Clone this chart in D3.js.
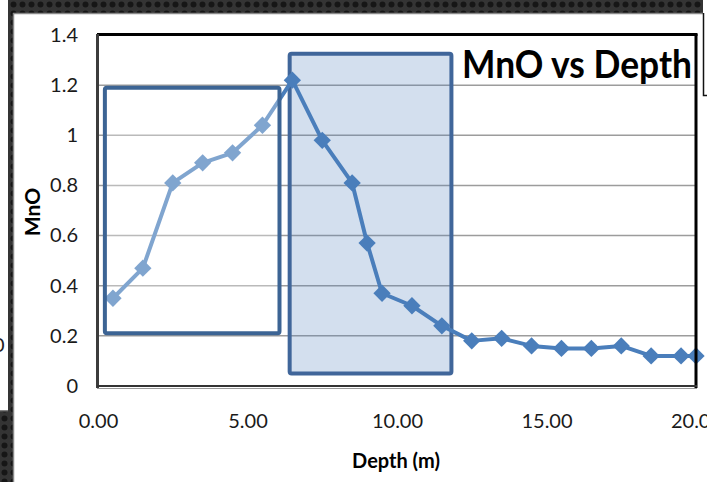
<!DOCTYPE html>
<html>
<head>
<meta charset="utf-8">
<script src="https://cdn.jsdelivr.net/npm/d3@7"></script>
<style>
  html,body{margin:0;padding:0;background:#fff;}
  svg{display:block;}
</style>
</head>
<body>
<svg id="chart"></svg>
<script>
// data
const depth = [0.5,1.5,2.5,3.5,4.5,5.5,6.5,7.5,8.5,9,9.5,10.5,11.5,12.5,13.5,14.5,15.5,16.5,17.5,18.5,19.5,20]
const mno   = [0.35,0.47,0.81,0.89,0.93,1.04,1.22,0.98,0.81,0.57,0.37,0.32,0.24,0.18,0.19,0.16,0.15,0.15,0.16,0.12,0.12,0.12]
const yTicks = [0,0.2,0.4,0.6,0.8,1,1.2,1.4]
const xTicks = [0,5,10,15,20]
// highlight boxes in data units: [x0,x1,y0,y1]
const leftBox  = [0.23,6.07,0.21,1.19]
const rightBox = [6.41,11.82,0.05,1.325]

const W=707,H=482
const font="Lato, 'Open Sans', sans-serif"
const svg=d3.select('#chart').attr('width',W).attr('height',H)

// dark textured slide background
const defs=svg.append('defs')
const pat=defs.append('pattern').attr('id','tex').attr('width',9).attr('height',9)
  .attr('patternUnits','userSpaceOnUse')
pat.append('rect').attr('width',9).attr('height',9).attr('fill','#343434')
pat.append('circle').attr('cx',4.5).attr('cy',4.5).attr('r',3).attr('fill','#161616')

svg.append('rect').attr('x',8).attr('y',0).attr('width',695).attr('height',13).attr('fill','url(#tex)')
svg.append('rect').attr('x',8).attr('y',0).attr('width',5).attr('height',H).attr('fill','url(#tex)')
svg.append('rect').attr('x',0).attr('y',411).attr('width',13).attr('height',H-411).attr('fill','url(#tex)')
svg.append('line').attr('x1',13).attr('x2',703).attr('y1',13.5).attr('y2',13.5).attr('stroke','#8a8a8a').attr('stroke-width',1.5)
svg.append('line').attr('x1',13.5).attr('x2',13.5).attr('y1',13).attr('y2',H).attr('stroke','#8a8a8a').attr('stroke-width',1.5)
svg.append('line').attr('x1',0).attr('x2',8).attr('y1',411).attr('y2',411).attr('stroke','#555').attr('stroke-width',1.5)
svg.append('text').attr('x',-7).attr('y',352).attr('font-family',font).attr('font-size',20).attr('fill','#222').text('0')
// corner of another box at top right
svg.append('path').attr('d','M703.5,13 V95.5 H707').attr('fill','none').attr('stroke','#111').attr('stroke-width',1.5)

const x=d3.scaleLinear().domain([0,20]).range([98,696])
const y=d3.scaleLinear().domain([0,1.4]).range([386,35])

// gridlines
svg.append('g').selectAll('line').data(yTicks.filter(v=>v>0&&v<1.4)).join('line')
  .attr('x1',x(0)).attr('x2',x(20)).attr('y1',d=>y(d)).attr('y2',d=>y(d))
  .attr('stroke','#9c9c9c').attr('stroke-width',1.5)

function boxRect(g,b){
  return g.append('rect')
    .attr('x',x(b[0])).attr('y',y(b[3]))
    .attr('width',x(b[1])-x(b[0])).attr('height',y(b[2])-y(b[3]))
    .attr('rx',2)
}
boxRect(svg,rightBox).attr('fill','#4f81bd').attr('fill-opacity',0.25)
  .attr('stroke','#40669a').attr('stroke-width',4)

// series
const pts=depth.map((d,i)=>[d,mno[i]])
svg.append('path').datum(pts)
  .attr('d',d3.line().x(d=>x(d[0])).y(d=>y(d[1])))
  .attr('fill','none').attr('stroke','#4a7ebb').attr('stroke-width',4).attr('stroke-linejoin','round')
svg.append('g').selectAll('path').data(pts).join('path')
  .attr('d',d3.symbol(d3.symbolSquare,150))
  .attr('transform',d=>`translate(${x(d[0])},${y(d[1])}) rotate(45)`)
  .attr('fill','#4a7ebb')

boxRect(svg,leftBox).attr('fill','#fff').attr('fill-opacity',0.3)
  .attr('stroke','#3c6494').attr('stroke-width',4)

// plot frame
svg.append('line').attr('x1',97).attr('x2',697.5).attr('y1',34.5).attr('y2',34.5).attr('stroke','#000').attr('stroke-width',3)
svg.append('line').attr('x1',696).attr('x2',696).attr('y1',34).attr('y2',388).attr('stroke','#000').attr('stroke-width',3)
svg.append('line').attr('x1',97.5).attr('x2',97.5).attr('y1',34).attr('y2',388).attr('stroke','#3c3c3c').attr('stroke-width',3)
svg.append('line').attr('x1',97).attr('x2',697).attr('y1',386).attr('y2',386).attr('stroke','#333').attr('stroke-width',2)
svg.append('line').attr('x1',97).attr('x2',697).attr('y1',388.5).attr('y2',388.5).attr('stroke','#9a9a9a').attr('stroke-width',1)

// axes (labels only)
svg.append('g').attr('transform','translate(78,0)')
  .call(d3.axisLeft(y).tickValues(yTicks).tickSize(0).tickPadding(0).tickFormat(d3.format('~g')))
svg.append('g').attr('transform','translate(0,414)')
  .call(d3.axisBottom(x).tickValues(xTicks).tickSize(0).tickPadding(0).tickFormat(d3.format('.2f')))
svg.selectAll('.domain').remove()
svg.selectAll('.tick text').attr('font-family',font).attr('font-size',20).attr('fill','#1a1a1a')

// titles
svg.append('text').attr('x',462).attr('y',78).attr('font-family',font).attr('font-weight','bold')
  .attr('font-size',39).attr('fill','#000').attr('textLength',230).attr('lengthAdjust','spacingAndGlyphs')
  .text('MnO vs Depth')
svg.append('text').attr('transform','translate(40,212) rotate(-90)').attr('text-anchor','middle')
  .attr('font-family',font).attr('font-weight','bold').attr('font-size',21).attr('fill','#000').text('MnO')
svg.append('text').attr('x',396).attr('y',468).attr('text-anchor','middle')
  .attr('font-family',font).attr('font-weight','bold').attr('font-size',20).attr('fill','#000').text('Depth (m)')
</script>
</body>
</html>
